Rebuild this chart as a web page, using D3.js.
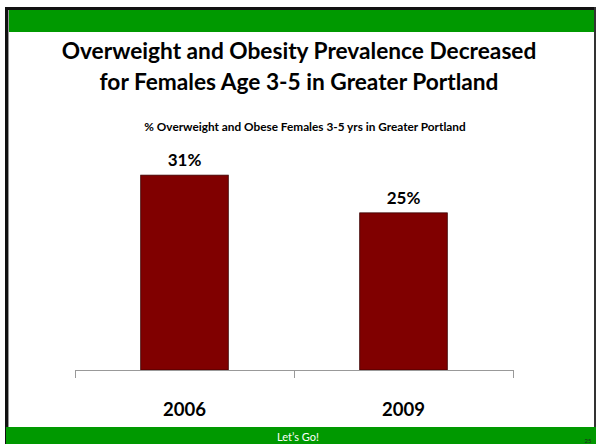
<!DOCTYPE html>
<html>
<head>
<meta charset="utf-8">
<script src="https://cdn.jsdelivr.net/npm/d3@7"></script>
<style>
  html, body { margin: 0; padding: 0; background: #fff; }
  svg { display: block; }
  text { font-family: Lato, "Open Sans", sans-serif; }
</style>
</head>
<body>
<svg id="chart" width="596" height="444"></svg>
<script>
// Chart data
const categories = ["2006", "2009"];
const values = [31, 25];
const valueLabels = ["31%", "25%"];
const titleLines = [
  "Overweight and Obesity Prevalence Decreased",
  "for Females Age 3-5 in Greater Portland"
];
const subtitle = "% Overweight and Obese Females 3-5 yrs in Greater Portland";
const footerText = "Let\u2019s Go!";
const pageNumber = "25";

const W = 596, H = 444;
const svg = d3.select("#chart");

// Slide frame: top green band, dark outline, footer band
svg.append("rect").attr("x", 5).attr("y", 7).attr("width", W - 5).attr("height", 3).attr("fill", "#111");
svg.append("rect").attr("x", 6).attr("y", 10).attr("width", W - 6).attr("height", 22).attr("fill", "#009900");
svg.append("rect").attr("x", 5).attr("y", 7).attr("width", 3).attr("height", H - 7).attr("fill", "#111");
svg.append("rect").attr("x", 8).attr("y", 10).attr("width", 1).attr("height", H - 10).attr("fill", "#999");
svg.append("rect").attr("x", W - 2).attr("y", 7).attr("width", 2).attr("height", H - 7).attr("fill", "#333");
svg.append("rect").attr("x", 6).attr("y", 427).attr("width", W - 6).attr("height", H - 427).attr("fill", "#009900");

svg.append("text")
  .attr("x", W / 2).attr("y", 441)
  .attr("text-anchor", "middle")
  .attr("fill", "#fff")
  .attr("font-size", 11)
  .text(footerText);
svg.append("text")
  .attr("x", 588).attr("y", 443)
  .attr("text-anchor", "middle")
  .attr("fill", "#222")
  .attr("font-size", 6)
  .text(pageNumber);

// Title
svg.append("g").selectAll("text")
  .data(titleLines)
  .join("text")
  .attr("x", W / 2 + 1)
  .attr("y", (d, i) => 59 + i * 31)
  .attr("text-anchor", "middle")
  .attr("font-weight", "bold")
  .attr("font-size", 22.7)
  .attr("fill", "#000")
  .text(d => d);

svg.append("text")
  .attr("x", W / 2 + 7).attr("y", 131)
  .attr("text-anchor", "middle")
  .attr("font-weight", "bold")
  .attr("font-size", 11.8)
  .attr("fill", "#000")
  .text(subtitle);

// Scales
const x = d3.scaleBand().domain(categories).range([75, 513]).padding(0);
const y = d3.scaleLinear().domain([0, 35]).range([370, 150]);
const barFrac = 0.4;

// Bars
svg.append("g").selectAll("rect")
  .data(values)
  .join("rect")
  .attr("x", (d, i) => x(categories[i]) + x.bandwidth() * (1 - barFrac) / 2)
  .attr("y", d => y(d))
  .attr("width", x.bandwidth() * barFrac)
  .attr("height", d => y(0) - y(d))
  .attr("fill", "#800000")
  .attr("stroke", "#3a0000")
  .attr("stroke-width", 0.8);

// Value labels
svg.append("g").selectAll("text")
  .data(values)
  .join("text")
  .attr("x", (d, i) => x(categories[i]) + x.bandwidth() / 2)
  .attr("y", d => y(d) - 9)
  .attr("text-anchor", "middle")
  .attr("font-weight", "bold")
  .attr("font-size", 17)
  .attr("fill", "#000")
  .text((d, i) => valueLabels[i]);

// Category axis with ticks between categories
const axis = svg.append("g").attr("transform", `translate(0,${y(0)})`);
axis.append("line")
  .attr("x1", x.range()[0]).attr("x2", x.range()[1])
  .attr("y1", 0.5).attr("y2", 0.5)
  .attr("stroke", "#999").attr("stroke-width", 1);
const tickPos = categories.map(c => x(c)).concat([x.range()[1]]);
axis.selectAll("line.tick")
  .data(tickPos)
  .join("line")
  .attr("class", "tick")
  .attr("x1", d => Math.round(d) + 0.5).attr("x2", d => Math.round(d) + 0.5)
  .attr("y1", 0).attr("y2", 8)
  .attr("stroke", "#999").attr("stroke-width", 1);
axis.selectAll("text")
  .data(categories)
  .join("text")
  .attr("x", d => x(d) + x.bandwidth() / 2)
  .attr("y", 46)
  .attr("text-anchor", "middle")
  .attr("font-weight", "bold")
  .attr("font-size", 18.5)
  .attr("fill", "#000")
  .text(d => d);
</script>
</body>
</html>
